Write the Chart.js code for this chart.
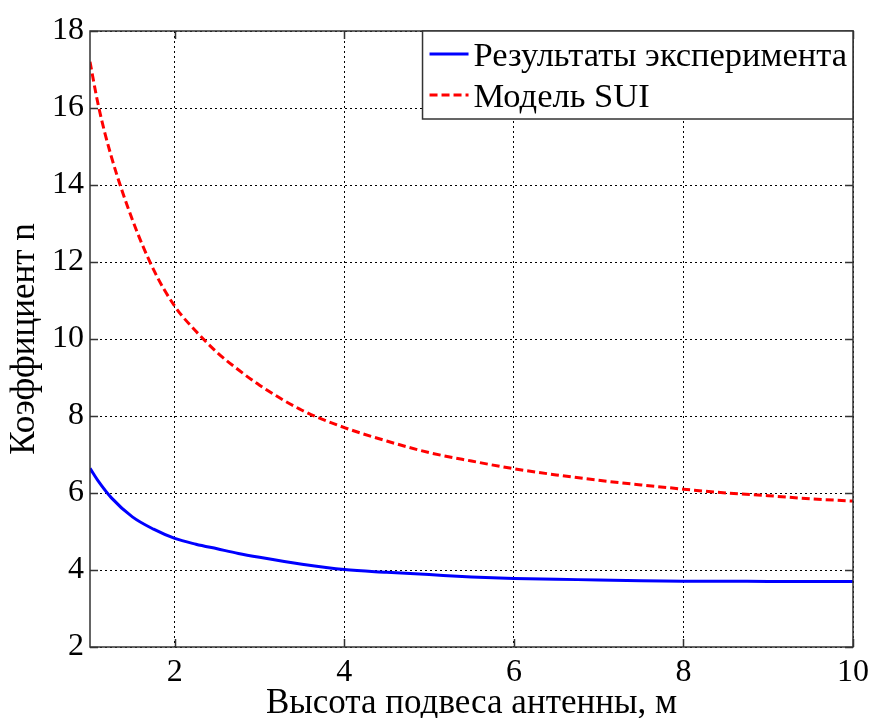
<!DOCTYPE html>
<html>
<head>
<meta charset="utf-8">
<script src="https://cdn.jsdelivr.net/npm/chart.js@4.4.1/dist/chart.umd.min.js"></script>
<style>
  html, body { margin: 0; padding: 0; background: #fff; }
  #wrap { width: 875px; height: 718px; }
</style>
</head>
<body>
<div id="wrap"><canvas id="chart"></canvas></div>
<script>
// antenna height, m
const heights = [1, 1.1, 1.25, 1.5, 1.75, 2, 2.25, 2.5, 2.75, 3, 3.5, 4, 4.5, 5, 5.5, 6, 6.5, 7, 7.5, 8, 8.5, 9, 9.5, 10];
// measured path loss exponent
const experiment = [6.64, 6.3, 5.88, 5.38, 5.06, 4.82, 4.67, 4.55, 4.43, 4.33, 4.15, 4.01, 3.94, 3.88, 3.82, 3.78, 3.76, 3.74, 3.72, 3.71, 3.71, 3.7, 3.7, 3.7];
// SUI model
const sui = [17.2, 16.05, 14.75, 13.1, 11.8, 10.85, 10.2, 9.65, 9.2, 8.8, 8.15, 7.7, 7.35, 7.05, 6.83, 6.63, 6.47, 6.33, 6.21, 6.1, 6.0, 5.93, 5.85, 5.79];

const xTicks = [2, 4, 6, 8, 10];
const yTicks = [2, 4, 6, 8, 10, 12, 14, 16, 18];

const labels = ['Результаты эксперимента', 'Модель SUI'];
const xTitle = 'Высота подвеса антенны, м';
const yTitle = 'Коэффициент n';

const serif = '"Liberation Serif", "Times New Roman", serif';

// box around plot, inward tick marks and legend (matlab style)
const boxPlugin = {
    id: 'box',
    afterDraw(chart) {
        const { ctx, chartArea: a, scales: { x, y } } = chart;
        ctx.save();
        ctx.strokeStyle = '#333';
        ctx.lineWidth = 1.5;
        ctx.beginPath();
        x.ticks.forEach(t => {
            const px = Math.round(x.getPixelForValue(t.value)) + 0.5;
            ctx.moveTo(px, a.bottom); ctx.lineTo(px, a.bottom - 8);
            ctx.moveTo(px, a.top); ctx.lineTo(px, a.top + 8);
        });
        y.ticks.forEach(t => {
            const py = Math.round(y.getPixelForValue(t.value)) + 0.5;
            ctx.moveTo(a.left, py); ctx.lineTo(a.left + 8, py);
            ctx.moveTo(a.right, py); ctx.lineTo(a.right - 8, py);
        });
        ctx.stroke();
        ctx.strokeRect(a.left, a.top, a.width, a.height);

        // legend
        ctx.font = '34.5px ' + serif;
        const sets = chart.data.datasets;
        const textW = Math.max(...sets.map(d => ctx.measureText(d.label).width));
        const boxW = 7 + 39 + 5 + textW + 6;
        const boxH = 88;
        const bx = a.right - boxW;
        const by = a.top;
        ctx.fillStyle = '#fff';
        ctx.fillRect(bx, by, boxW, boxH);
        ctx.strokeStyle = '#333';
        ctx.lineWidth = 1.5;
        ctx.strokeRect(bx, by, boxW, boxH);
        sets.forEach((d, i) => {
            const base = by + 35 + i * 41;
            ctx.strokeStyle = d.borderColor;
            ctx.lineWidth = d.borderWidth;
            ctx.setLineDash(d.borderDash || []);
            ctx.beginPath();
            ctx.moveTo(bx + 7, base - 12);
            ctx.lineTo(bx + 46, base - 12);
            ctx.stroke();
            ctx.setLineDash([]);
            ctx.fillStyle = '#000';
            ctx.textBaseline = 'alphabetic';
            ctx.fillText(d.label, bx + 51, base);
        });
        ctx.restore();
    }
};

new Chart(document.getElementById('chart'), {
    type: 'line',
    data: {
        datasets: [
            {
                label: labels[0],
                data: heights.map((h, i) => ({ x: h, y: experiment[i] })),
                borderColor: '#0000ff',
                borderWidth: 3,
                pointRadius: 0,
                cubicInterpolationMode: 'monotone'
            },
            {
                label: labels[1],
                data: heights.map((h, i) => ({ x: h, y: sui[i] })),
                borderColor: '#ff0000',
                borderWidth: 3,
                borderDash: [8, 4],
                pointRadius: 0,
                cubicInterpolationMode: 'monotone'
            }
        ]
    },
    options: {
        responsive: true,
        maintainAspectRatio: false,
        animation: false,
        layout: { padding: { top: 31, right: 22, left: 0, bottom: 0 } },
        plugins: {
            legend: { display: false },
            tooltip: { enabled: false }
        },
        scales: {
            x: {
                type: 'linear',
                min: 1,
                max: 10,
                afterBuildTicks: s => { s.ticks = xTicks.map(v => ({ value: v })); },
                afterFit: s => { s.height = 71; },
                grid: { color: '#000', lineWidth: 1, drawTicks: false },
                border: { display: false, dash: [2, 3] },
                ticks: { color: '#000', padding: 6, maxRotation: 0, font: { family: serif, size: 32 } },
                title: {
                    display: true,
                    text: xTitle,
                    color: '#000',
                    padding: 0,
                    font: { family: serif, size: 35, lineHeight: 0.8 }
                }
            },
            y: {
                min: 2,
                max: 18,
                afterBuildTicks: s => { s.ticks = yTicks.map(v => ({ value: v })); },
                afterFit: s => { s.width = 90; },
                grid: { color: '#000', lineWidth: 1, drawTicks: false },
                border: { display: false, dash: [2, 3] },
                ticks: { color: '#000', padding: 6, font: { family: serif, size: 32 } },
                title: {
                    display: true,
                    text: yTitle,
                    color: '#000',
                    padding: { top: 11, bottom: 0 },
                    font: { family: serif, size: 35, lineHeight: 0.8 }
                }
            }
        }
    },
    plugins: [boxPlugin]
});
</script>
</body>
</html>
